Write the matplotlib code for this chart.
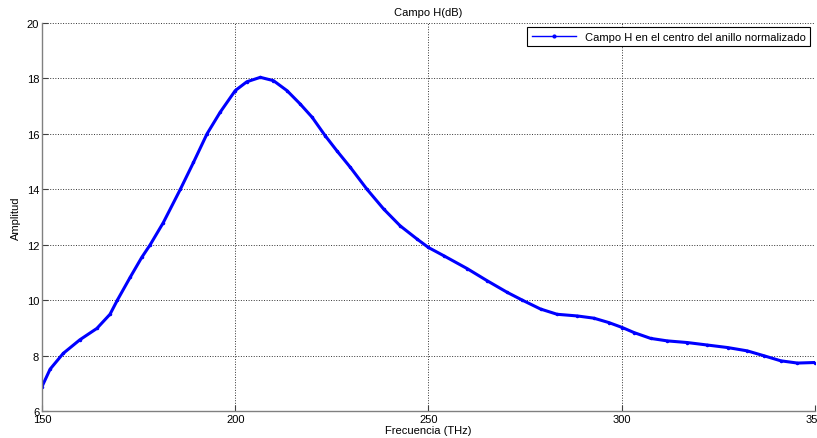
import matplotlib.pyplot as plt

# valores
frecuencia = [150, 152.1, 155.5, 159.8, 164.2, 167.6, 169.5, 172.8, 175.8, 178.0,
              181.4, 185.8, 189.2, 192.7, 196.1, 200, 203.0, 206.5, 209.9, 213.4,
              216.8, 219.9, 223.3, 226.3, 229.8, 234.1, 238.4, 242.7, 247.1, 250,
              254, 260, 265.2, 270.4, 274.3, 279.0, 283.3, 288.5, 292.8, 296.7,
              300.2, 303.2, 307.5, 311.8, 317.0, 322.2, 327.4, 332.5, 336.9, 341.2,
              345.5, 350]
campo_h = [6.88, 7.51, 8.08, 8.57, 8.98, 9.49, 10.0, 10.82, 11.54, 12.0,
           12.80, 14.0, 14.97, 16.0, 16.78, 17.56, 17.88, 18.04, 17.92, 17.56,
           17.08, 16.60, 15.93, 15.39, 14.79, 14.0, 13.29, 12.68, 12.20, 11.90,
           11.6, 11.14, 10.70, 10.28, 10.0, 9.68, 9.49, 9.43, 9.35, 9.19,
           9.01, 8.83, 8.62, 8.53, 8.47, 8.38, 8.29, 8.17, 7.99, 7.81,
           7.73, 7.75]
xticks = [150, 200, 250, 300, 350]
yticks = [6, 8, 10, 12, 14, 16, 18, 20]

plt.rcParams['font.family'] = ['Liberation Sans', 'DejaVu Sans']

fig = plt.figure(figsize=(8.17, 4.39), dpi=100)
ax = fig.add_axes([0.0514, 0.0615, 0.946, 0.8838])

ax.plot(frecuencia, campo_h, color='#0000ff', linewidth=2.2, marker='.',
        markersize=3, label='Campo H en el centro del anillo normalizado')

ax.set_xlim(150, 350)
ax.set_ylim(6, 20)
ax.set_xticks(xticks)
ax.set_yticks(yticks)
ax.tick_params(direction='in', length=4, labelsize=8, width=0.8, color='#404040', pad=2)
ax.grid(True, linestyle=':', color='#333333', linewidth=0.7)

for s in ['top', 'right']:
    ax.spines[s].set_visible(False)
for s in ['left', 'bottom']:
    ax.spines[s].set_color('#808080')
    ax.spines[s].set_linewidth(1.0)

ax.set_title('Campo H(dB)', fontsize=8, pad=6)
ax.set_xlabel('Frecuencia (THz)', fontsize=8, labelpad=1)
ax.set_ylabel('Amplitud', fontsize=8, labelpad=4)

leg = ax.legend(loc='upper right', fontsize=8, fancybox=False, framealpha=1,
                edgecolor='black', borderaxespad=0.4, handlelength=4, borderpad=0.4)
leg.get_frame().set_linewidth(0.8)
for h in leg.legend_handles:
    h.set_linewidth(1.0)
    h.set_markersize(4)

fig.savefig('out.png', dpi=100)
